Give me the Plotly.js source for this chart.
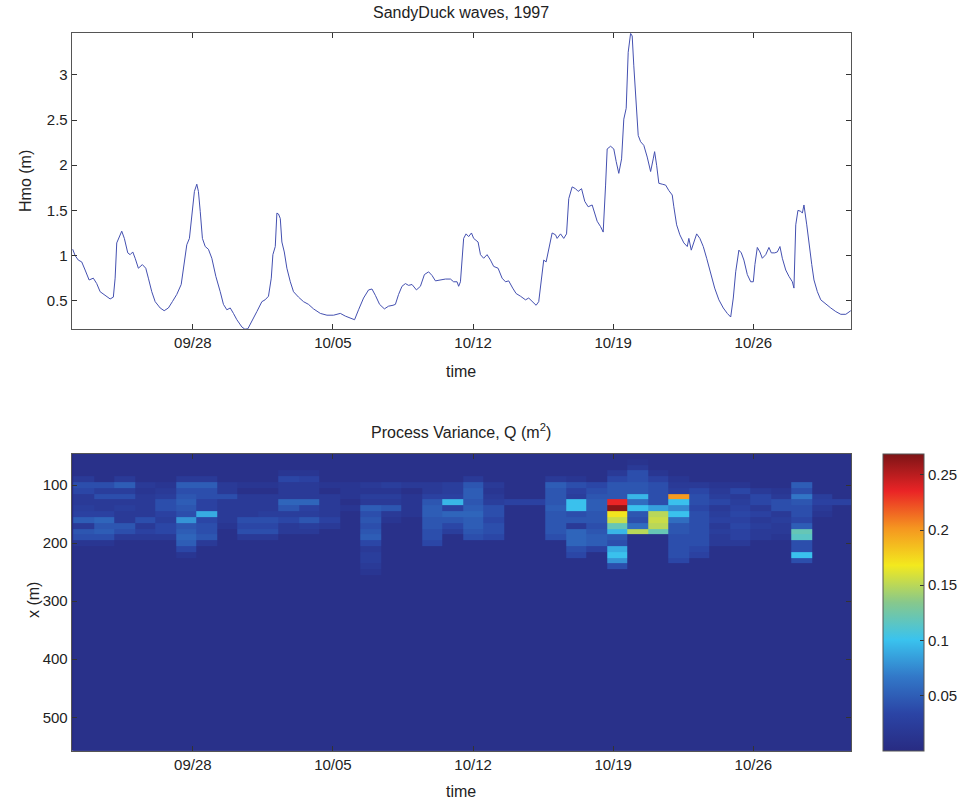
<!DOCTYPE html>
<html>
<head>
<meta charset="utf-8">
<script src="https://cdn.plot.ly/plotly-3.0.1.min.js"></script>
<style>html,body{margin:0;padding:0;background:#fff;}#chart{width:967px;height:800px;}</style>
</head>
<body>
<div id="chart"></div>
<script>
// ---- Top panel: significant wave height, days since 1997-09-22 00:00 ----
const days = [0,0.12,0.28,0.45,0.62,0.82,1.03,1.2,1.37,1.62,1.87,2.03,2.12,2.2,2.37,2.45,2.58,2.75,2.87,3.0,3.12,3.28,3.48,3.65,3.78,3.95,4.12,4.37,4.57,4.78,4.98,5.2,5.42,5.58,5.7,5.83,5.95,6.08,6.2,6.28,6.37,6.48,6.62,6.78,6.95,7.15,7.37,7.53,7.7,7.87,8.03,8.2,8.45,8.6,8.75,8.95,9.2,9.45,9.61,9.78,9.92,10.0,10.12,10.2,10.28,10.37,10.45,10.57,10.7,10.87,11.03,11.28,11.53,11.78,12.03,12.37,12.7,13.03,13.37,13.62,13.87,14.08,14.28,14.53,14.78,14.95,15.12,15.33,15.57,15.78,16.0,16.12,16.28,16.45,16.62,16.78,16.95,17.17,17.37,17.57,17.78,17.95,18.12,18.37,18.62,18.87,19.03,19.2,19.28,19.37,19.45,19.53,19.65,19.78,19.92,20.03,20.25,20.37,20.53,20.7,20.87,21.03,21.25,21.45,21.62,21.78,21.98,22.15,22.37,22.62,22.78,22.95,23.15,23.28,23.42,23.53,23.65,23.78,23.95,24.12,24.2,24.37,24.53,24.67,24.78,24.95,25.12,25.25,25.42,25.58,25.75,25.95,26.08,26.2,26.37,26.5,26.62,26.7,26.87,27.03,27.15,27.28,27.42,27.53,27.65,27.75,27.87,27.95,28.03,28.15,28.25,28.37,28.53,28.7,28.87,29.0,29.07,29.17,29.28,29.45,29.62,29.78,29.95,30.03,30.17,30.33,30.53,30.7,30.78,30.9,31.03,31.17,31.33,31.5,31.67,31.87,32.07,32.28,32.5,32.7,32.87,33.0,33.12,33.28,33.4,33.53,33.7,33.87,34.0,34.08,34.2,34.33,34.45,34.62,34.78,34.9,35.07,35.2,35.33,35.45,35.62,35.78,35.95,36.03,36.12,36.23,36.37,36.45,36.53,36.67,36.78,36.92,37.03,37.2,37.37,37.62,37.87,38.12,38.37,38.62,38.87];
const hmo = [1.07,1.0,0.95,0.93,0.84,0.73,0.75,0.69,0.60,0.56,0.52,0.54,0.75,1.14,1.23,1.27,1.19,1.03,1.01,1.04,0.97,0.86,0.90,0.86,0.75,0.60,0.49,0.42,0.39,0.42,0.49,0.57,0.68,0.97,1.12,1.19,1.45,1.71,1.79,1.71,1.49,1.19,1.10,1.07,0.97,0.77,0.60,0.46,0.40,0.42,0.36,0.29,0.21,0.185,0.19,0.27,0.38,0.49,0.51,0.55,0.75,1.01,1.10,1.47,1.46,1.41,1.15,1.04,0.86,0.71,0.60,0.54,0.49,0.46,0.41,0.36,0.34,0.34,0.36,0.33,0.31,0.29,0.40,0.53,0.62,0.63,0.56,0.46,0.41,0.44,0.45,0.46,0.57,0.66,0.69,0.67,0.68,0.62,0.66,0.79,0.82,0.78,0.72,0.73,0.74,0.74,0.71,0.71,0.66,0.71,0.97,1.19,1.24,1.21,1.25,1.19,1.15,1.01,0.97,1.01,0.95,0.88,0.86,0.75,0.71,0.72,0.64,0.58,0.55,0.51,0.53,0.49,0.45,0.49,0.75,0.95,0.93,1.08,1.25,1.23,1.19,1.24,1.19,1.24,1.63,1.76,1.74,1.71,1.74,1.60,1.54,1.56,1.47,1.38,1.32,1.26,1.78,2.18,2.21,2.18,2.04,1.91,2.07,2.51,2.63,3.25,3.46,3.43,3.10,2.74,2.33,2.26,2.22,2.09,1.93,2.07,2.15,2.0,1.80,1.79,1.78,1.72,1.67,1.54,1.34,1.23,1.14,1.10,1.19,1.06,1.15,1.24,1.19,1.10,0.97,0.81,0.64,0.51,0.42,0.36,0.32,0.53,0.82,1.06,1.03,0.95,0.79,0.71,0.71,0.90,1.09,1.04,0.97,1.01,1.09,1.03,1.03,1.04,1.10,0.97,0.84,0.77,0.71,0.64,1.34,1.50,1.49,1.47,1.56,1.34,1.12,0.90,0.73,0.60,0.51,0.46,0.42,0.38,0.35,0.35,0.39];

const tickDays = [6,13,20,27,34];
const tickLabels = ['09/28','10/05','10/12','10/19','10/26'];

// ---- Bottom panel: process variance Q (m^2) ----
const colDay = [0.54,1.57,2.59,3.62,4.64,5.67,6.69,7.72,8.74,9.77,10.79,11.82,12.84,13.87,14.89,15.92,16.94,17.97,18.99,20.02,21.04,22.07,23.09,24.12,25.14,26.17,27.19,28.22,29.24,30.27,31.29,32.32,33.34,34.37,35.39,36.42,37.44,38.47];
const rowEdges = [45,55,65,75,85,95,105,115,125,135,145,155,165,175,185,195,205,215,225,235,245,255,265,560];
const q050 = [.008,.008,.008,.008,.008,.008,.008,.008,.008,.008, .008,.008,.008,.008,.008,.008,.008,.008,.008,.008, .008,.008,.008,.008,.008,.008,.008,.008,.008,.008, .008,.008,.008,.008,.008,.008,.008,.008];
const q060 = [.008,.008,.008,.008,.008,.008,.008,.008,.008,.008, .008,.008,.008,.008,.008,.008,.008,.008,.008,.008, .008,.008,.008,.008,.008,.008,.008,.012,.008,.008, .008,.008,.008,.008,.008,.008,.008,.008];
const q070 = [.008,.008,.008,.008,.008,.008,.008,.008,.008,.008, .008,.008,.008,.008,.008,.008,.008,.008,.008,.008, .008,.008,.008,.008,.008,.008,.008,.02,.008,.008, .008,.008,.008,.008,.008,.008,.008,.008];
const q080 = [.008,.008,.008,.008,.008,.008,.008,.008,.008,.008, .015,.015,.008,.008,.008,.008,.008,.008,.008,.008, .008,.008,.008,.008,.008,.008,.02,.04,.015,.008, .008,.008,.008,.008,.008,.008,.008,.008];
const q090 = [.02,.008,.02,.008,.008,.02,.02,.008,.008,.008, .035,.03,.008,.008,.008,.008,.008,.008,.008,.02, .008,.008,.008,.02,.015,.008,.035,.04,.03,.015, .008,.008,.008,.008,.008,.008,.008,.008];
const q100 = [.04,.04,.05,.02,.015,.05,.05,.02,.015,.015, .02,.02,.015,.015,.02,.025,.02,.02,.025,.045, .02,.008,.008,.05,.04,.035,.045,.045,.04,.02, .02,.015,.015,.008,.008,.05,.008,.008];
const q110 = [.035,.025,.025,.015,.02,.04,.04,.02,.008,.008, .02,.02,.008,.015,.015,.015,.008,.02,.025,.05, .015,.008,.008,.045,.03,.04,.045,.045,.04,.025, .035,.02,.035,.02,.015,.04,.008,.008];
const q120 = [.02,.04,.04,.02,.025,.045,.04,.04,.02,.02, .02,.02,.02,.015,.025,.025,.015,.03,.03,.05, .02,.008,.008,.045,.025,.045,.045,.095,.04,.2, .04,.025,.02,.035,.02,.065,.025,.008];
const q130 = [.02,.02,.02,.02,.04,.05,.03,.02,.02,.02, .055,.055,.02,.008,.02,.02,.015,.045,.095,.045, .025,.03,.03,.045,.1,.05,.235,.06,.04,.1, .04,.035,.025,.035,.04,.045,.03,.03];
const q140 = [.025,.02,.025,.02,.04,.045,.03,.02,.02,.02, .045,.03,.02,.015,.05,.045,.015,.05,.03,.05, .04,.008,.008,.05,.1,.05,.265,.1,.085,.075, .035,.02,.03,.02,.04,.04,.02,.008];
const q150 = [.03,.03,.02,.02,.03,.04,.09,.02,.02,.025, .025,.025,.02,.008,.04,.02,.015,.05,.055,.055, .04,.008,.008,.045,.04,.045,.17,.045,.15,.1, .04,.025,.035,.03,.02,.04,.015,.008];
const q160 = [.05,.055,.02,.04,.025,.08,.035,.02,.04,.04, .035,.045,.03,.008,.045,.015,.008,.045,.045,.05, .035,.008,.008,.045,.045,.045,.155,.04,.155,.06, .04,.03,.03,.02,.025,.035,.008,.008];
const q170 = [.02,.045,.045,.02,.035,.045,.04,.015,.035,.035, .02,.025,.02,.008,.04,.008,.008,.045,.035,.05, .04,.008,.008,.045,.02,.04,.12,.06,.15,.045, .04,.02,.035,.025,.02,.05,.008,.008];
const q180 = [.045,.05,.04,.03,.035,.05,.04,.008,.04,.04, .02,.02,.008,.008,.045,.008,.008,.04,.025,.045, .04,.008,.008,.045,.055,.045,.095,.15,.12,.045, .04,.025,.03,.02,.02,.12,.008,.008];
const q190 = [.04,.04,.02,.02,.02,.055,.045,.008,.02,.02, .008,.008,.008,.008,.05,.008,.008,.04,.008,.04, .035,.008,.008,.04,.055,.05,.045,.008,.008,.04, .04,.02,.03,.02,.015,.115,.008,.008];
const q200 = [.015,.015,.008,.008,.008,.05,.02,.008,.008,.008, .008,.008,.008,.008,.035,.008,.008,.035,.008,.008, .008,.008,.008,.008,.055,.05,.04,.008,.008,.04, .04,.02,.02,.008,.008,.04,.008,.008];
const q210 = [.008,.008,.008,.008,.008,.035,.008,.008,.008,.008, .008,.008,.008,.008,.02,.008,.008,.008,.008,.008, .008,.008,.008,.008,.04,.03,.09,.008,.008,.04, .035,.008,.008,.008,.008,.04,.008,.008];
const q220 = [.008,.008,.008,.008,.008,.015,.008,.008,.008,.008, .008,.008,.008,.008,.025,.008,.008,.008,.008,.008, .008,.008,.008,.008,.035,.008,.1,.008,.008,.04, .03,.008,.008,.008,.008,.1,.008,.008];
const q230 = [.008,.008,.008,.008,.008,.008,.008,.008,.008,.008, .008,.008,.008,.008,.025,.008,.008,.008,.008,.008, .008,.008,.008,.008,.008,.008,.08,.008,.008,.035, .008,.008,.008,.008,.008,.04,.008,.008];
const q240 = [.008,.008,.008,.008,.008,.008,.008,.008,.008,.008, .008,.008,.008,.008,.02,.008,.008,.008,.008,.008, .008,.008,.008,.008,.008,.008,.04,.008,.008,.008, .008,.008,.008,.008,.008,.008,.008,.008];
const q250 = [.008,.008,.008,.008,.008,.008,.008,.008,.008,.008, .008,.008,.008,.008,.015,.008,.008,.008,.008,.008, .008,.008,.008,.008,.008,.008,.008,.008,.008,.008, .008,.008,.008,.008,.008,.008,.008,.008];
const q260 = [.008,.008,.008,.008,.008,.008,.008,.008,.008,.008, .008,.008,.008,.008,.008,.008,.008,.008,.008,.008, .008,.008,.008,.008,.008,.008,.008,.008,.008,.008, .008,.008,.008,.008,.008,.008,.008,.008];
const qDeep = [.008,.008,.008,.008,.008,.008,.008,.008,.008,.008, .008,.008,.008,.008,.008,.008,.008,.008,.008,.008, .008,.008,.008,.008,.008,.008,.008,.008,.008,.008, .008,.008,.008,.008,.008,.008,.008,.008];
const yTicks = [100,200,300,400,500];
const cbTicks = [0.05,0.1,0.15,0.2,0.25];
const cbLabels = ['0.05','0.1','0.15','0.2','0.25'];

const qMatrix = [q050,q060,q070,q080,q090,q100,q110,q120,q130,q140,q150,q160,q170,q180,q190,q200,q210,q220,q230,q240,q250,q260,qDeep];

const jet = [
  [0.000,'rgb(40,43,130)'],
  [0.125,'rgb(43,68,165)'],
  [0.250,'rgb(50,120,200)'],
  [0.375,'rgb(58,195,238)'],
  [0.500,'rgb(135,200,140)'],
  [0.625,'rgb(243,233,30)'],
  [0.750,'rgb(245,150,32)'],
  [0.875,'rgb(234,36,38)'],
  [1.000,'rgb(125,20,22)']
];

const FONT = 'Liberation Sans, Arial, Helvetica, sans-serif';
const axCol = '#555';
const xDom = [71.7/967, 851/967];
const common = {
  showline:true, linecolor:axCol, linewidth:1, mirror:'ticks',
  ticks:'inside', ticklen:5, tickcolor:'#333', tickwidth:1,
  showgrid:false, zeroline:false,
  tickfont:{family:FONT, size:15, color:'#222'}
};

const traces = [
  {type:'scatter', mode:'lines', x:days, y:hmo, xaxis:'x', yaxis:'y',
   line:{color:'#4450b0', width:1}, hoverinfo:'x+y', showlegend:false},
  {type:'heatmap', x:colDay, y:rowEdges, z:qMatrix, xaxis:'x2', yaxis:'y2',
   colorscale:jet, zmin:0, zmax:0.269, zsmooth:false,
   colorbar:{x:883/967, xanchor:'left', y:(49.3+346)/2/800, yanchor:'middle',
     len:297/800, lenmode:'fraction', thickness:41, thicknessmode:'pixels',
     xpad:0, ypad:0, outlinewidth:1, outlinecolor:axCol,
     tickvals:cbTicks, ticktext:cbLabels, ticks:'inside', ticklen:4, tickcolor:'#333',
     tickfont:{family:FONT, size:15, color:'#222'}}}
];

const layout = {
  width:967, height:800, margin:{l:0,r:0,t:0,b:0},
  paper_bgcolor:'#fff', plot_bgcolor:'rgba(0,0,0,0)',
  xaxis:Object.assign({}, common, {domain:xDom, anchor:'y', range:[-0.05,38.88],
    tickvals:tickDays, ticktext:tickLabels}),
  yaxis:Object.assign({}, common, {domain:[470.7/800, 766.7/800], anchor:'x', range:[0.184,3.46],
    tickvals:[0.5,1,1.5,2,2.5,3], ticktext:['0.5','1','1.5','2','2.5','3']}),
  xaxis2:Object.assign({}, common, {domain:xDom, anchor:'y2', range:[-0.05,38.88],
    tickvals:tickDays, ticktext:tickLabels}),
  yaxis2:Object.assign({}, common, {domain:[49.3/800, 346/800], anchor:'x2', range:[557.5,46.6],
    tickvals:yTicks}),
  shapes:[{type:'rect', xref:'x2 domain', yref:'y2 domain', x0:0, x1:1, y0:0, y1:1,
    fillcolor:'rgb(40,43,130)', line:{width:0}, layer:'below'}],
  annotations:[
    {text:'SandyDuck waves, 1997', xref:'paper', yref:'paper', x:461.4/967, y:(800-12)/800,
      showarrow:false, xanchor:'center', yanchor:'middle', font:{family:FONT, size:16, color:'#222'}},
    {text:'time', xref:'paper', yref:'paper', x:461.4/967, y:(800-371)/800,
      showarrow:false, xanchor:'center', yanchor:'middle', font:{family:FONT, size:16, color:'#222'}},
    {text:'Hmo (m)', xref:'paper', yref:'paper', x:26/967, y:(800-181)/800, textangle:-90,
      showarrow:false, xanchor:'center', yanchor:'middle', font:{family:FONT, size:16, color:'#222'}},
    {text:'Process Variance, Q (m<sup>2</sup>)', xref:'paper', yref:'paper', x:461.4/967, y:(800-431)/800,
      showarrow:false, xanchor:'center', yanchor:'middle', font:{family:FONT, size:16, color:'#222'}},
    {text:'x (m)', xref:'paper', yref:'paper', x:33/967, y:(800-600)/800, textangle:-90,
      showarrow:false, xanchor:'center', yanchor:'middle', font:{family:FONT, size:16, color:'#222'}},
    {text:'time', xref:'paper', yref:'paper', x:461.4/967, y:(800-791)/800,
      showarrow:false, xanchor:'center', yanchor:'middle', font:{family:FONT, size:16, color:'#222'}}
  ]
};

Plotly.newPlot('chart', traces, layout, {displayModeBar:false, staticPlot:true});
</script>
</body>
</html>
